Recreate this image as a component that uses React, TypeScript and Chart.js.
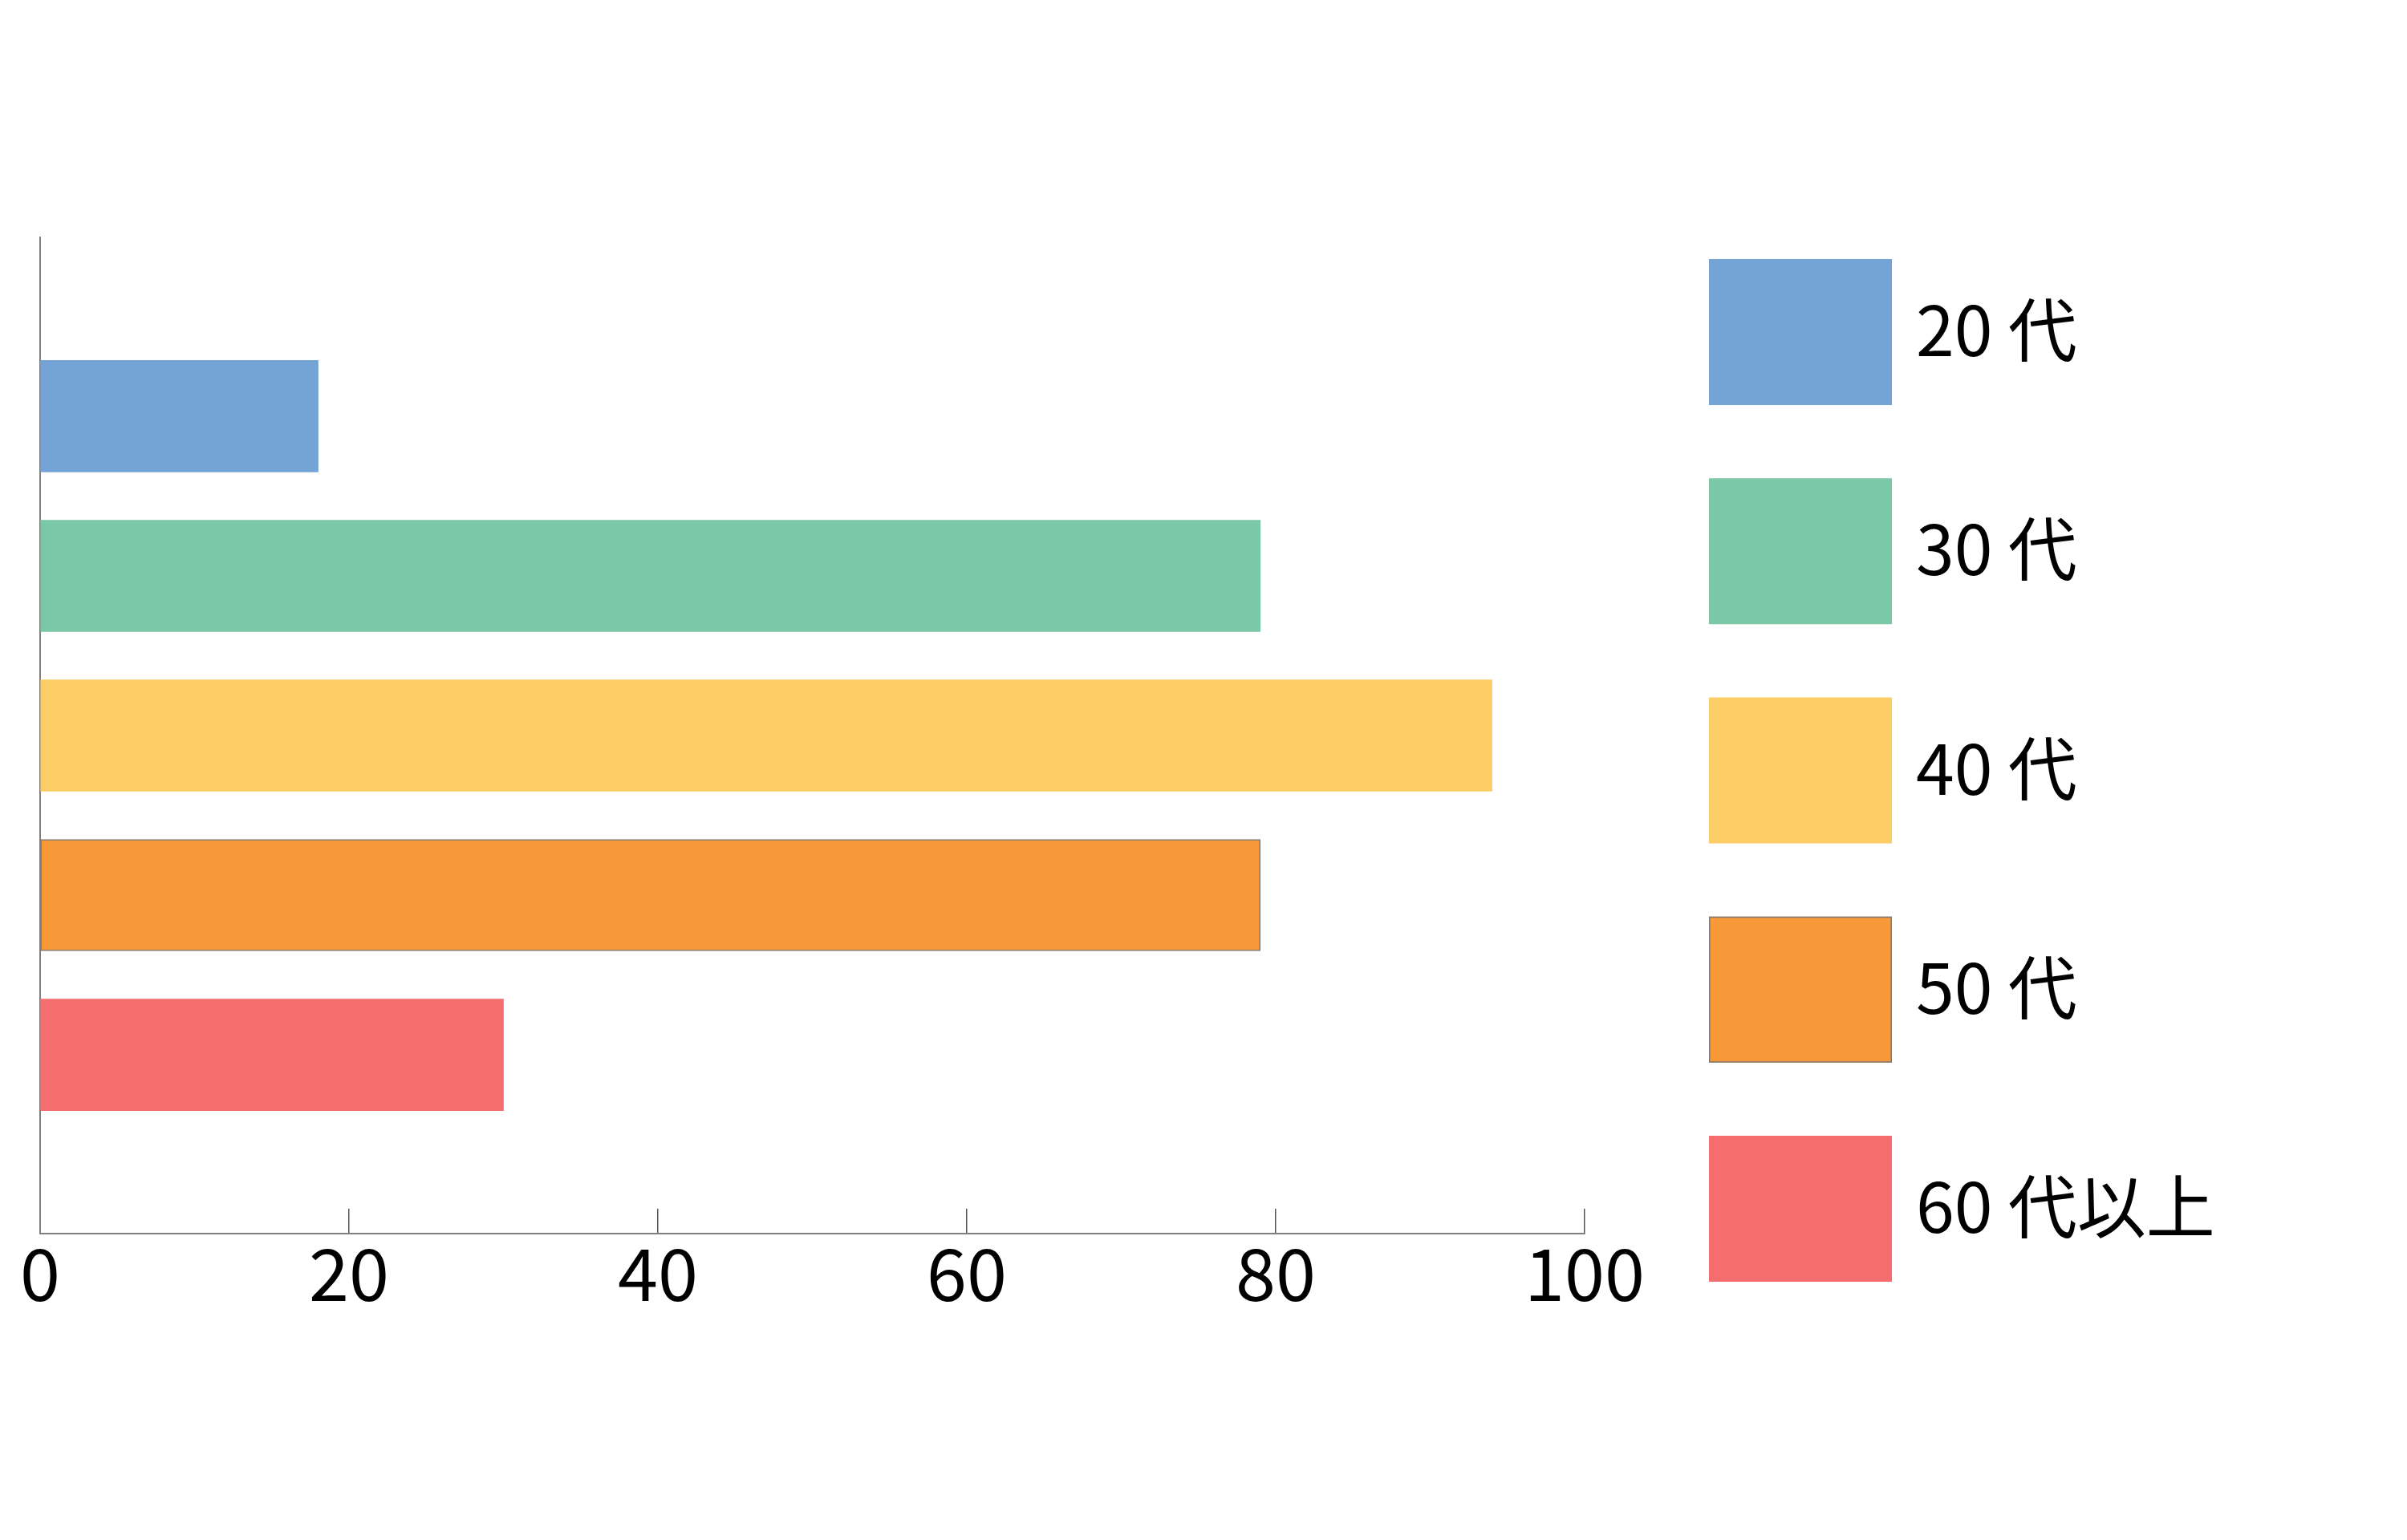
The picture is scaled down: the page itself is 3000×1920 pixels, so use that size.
import React, { useEffect, useRef } from 'react';
import { Chart, registerables } from 'chart.js';

Chart.register(...registerables);

const categories = ['20 代', '30 代', '40 代', '50 代', '60 代以上'];
const values = [18, 79, 94, 79, 30];
const fillColors = ['#73A4D5', '#7AC8A7', '#FCCD65', '#F89839', '#F66D6F'];
const edgeColors = ['#73A4D5', '#7AC8A7', '#FCCD65', '#7A7A7A', '#F66D6F'];
const edgeWidths = [0, 0, 0, 1.5, 0];

const FONT = '"Noto Sans CJK JP", "Noto Sans", sans-serif';

const sideLegend = {
  id: 'sideLegend',
  afterDraw(chart: any, _args: any, opts: any) {
    const ctx = chart.ctx;
    chart.data.datasets.forEach((ds: any, i: number) => {
      const top = opts.top + i * opts.step;
      ctx.save();
      ctx.fillStyle = ds.backgroundColor;
      ctx.fillRect(opts.left, top, opts.boxWidth, opts.boxHeight);
      if (ds.borderWidth) {
        ctx.strokeStyle = ds.borderColor;
        ctx.lineWidth = ds.borderWidth;
        ctx.strokeRect(opts.left + 0.75, top + 0.75, opts.boxWidth - 1.5, opts.boxHeight - 1.5);
      }
      ctx.fillStyle = '#000';
      ctx.font = `${opts.fontSize}px ${FONT}`;
      ctx.textAlign = 'left';
      ctx.textBaseline = 'alphabetic';
      ctx.fillText(ds.label, opts.textX, top + opts.baseline);
      ctx.restore();
    });
  },
};

export default function App() {
  const ref = useRef<HTMLCanvasElement | null>(null);

  useEffect(() => {
    if (!ref.current) return;
    const chart = new Chart(ref.current, {
      type: 'bar',
      data: {
        datasets: categories.map((label, i) => ({
          label,
          data: [{ x: values[i], y: i }],
          backgroundColor: fillColors[i],
          borderColor: edgeColors[i],
          borderWidth: edgeWidths[i],
          borderSkipped: false,
          grouped: false,
          barThickness: 139,
        })),
      } as any,
      options: {
        animation: false,
        responsive: true,
        maintainAspectRatio: false,
        indexAxis: 'y',
        layout: { padding: { left: 50, top: 296, right: 1025, bottom: 0 } },
        plugins: {
          legend: { display: false },
          tooltip: { enabled: false },
          sideLegend: {
            left: 2130,
            top: 323,
            step: 273.25,
            boxWidth: 228,
            boxHeight: 182,
            textX: 2388,
            baseline: 121,
            fontSize: 86,
          },
        } as any,
        scales: {
          x: {
            type: 'linear',
            position: 'bottom',
            min: 0,
            max: 100,
            ticks: {
              stepSize: 20,
              color: '#000',
              font: { family: FONT, size: 90 },
              padding: 27,
              maxRotation: 0,
              autoSkip: false,
            },
            grid: {
              drawOnChartArea: false,
              drawTicks: true,
              tickLength: -31,
              color: '#555',
              lineWidth: 1.5,
            },
            border: { display: true, color: '#808080', width: 2 },
            afterFit: (s: any) => {
              s.height = 382;
              s.paddingLeft = 0;
              s.paddingRight = 0;
            },
          },
          y: {
            type: 'linear',
            position: 'left',
            min: -1.12,
            max: 5.12,
            reverse: true,
            offset: false,
            ticks: { display: false },
            grid: { display: false, drawTicks: false, offset: false },
            border: { display: true, color: '#808080', width: 2 },
            afterFit: (s: any) => {
              s.width = 0;
              s.paddingTop = 0;
              s.paddingBottom = 0;
            },
          },
        },
      } as any,
      plugins: [sideLegend],
    });
    return () => chart.destroy();
  }, []);

  return (
    <div style={{ position: 'absolute', left: 0, top: 0, width: 3000, height: 1920, background: '#fff' }}>
      <canvas ref={ref} />
    </div>
  );
}
